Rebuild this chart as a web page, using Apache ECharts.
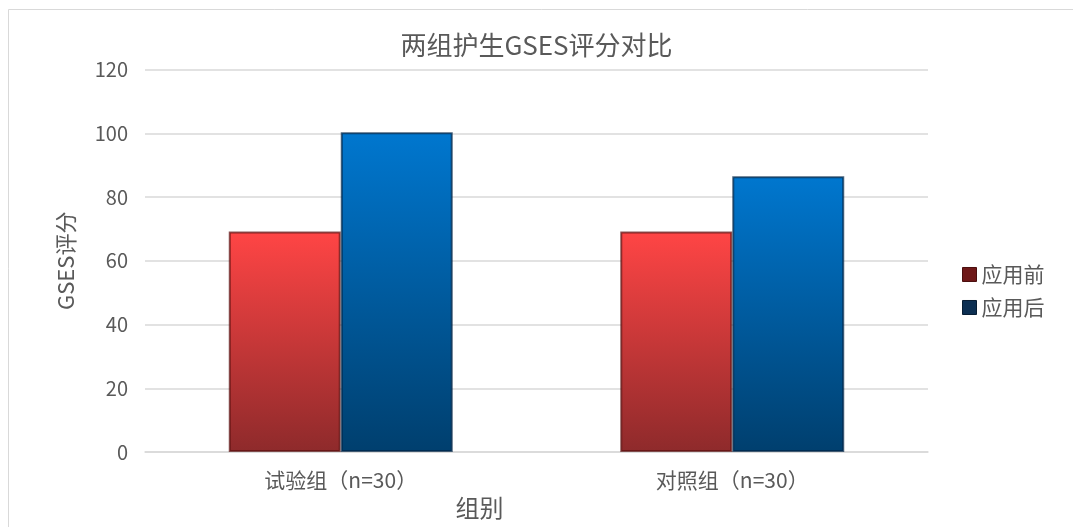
<!DOCTYPE html>
<html style="height: 100%">

<head>
    <meta charset="utf-8">
</head>

<body style="height: 100%; margin: 0; background: #fff">
    <div id="container" style="height: 100%"></div>
    <script type="text/javascript" src="https://cdn.jsdelivr.net/npm/echarts@6/dist/echarts.min.js"></script>
    <script type="text/javascript">
        var categories = ['试验组（n=30）', '对照组（n=30）'];
        var seriesNames = ['应用前', '应用后'];
        var beforeValues = [69.2, 69.2];
        var afterValues = [100.3, 86.5];
        var yTicks = [0, 20, 40, 60, 80, 100, 120];

        var font = '"Noto Sans CJK SC", "Microsoft YaHei", sans-serif';
        var textColor = '#595959';

        function barGradient(top, bottom) {
            return new echarts.graphic.LinearGradient(0, 0, 0, 1, [
                { offset: 0, color: top },
                { offset: 1, color: bottom }
            ]);
        }

        var dom = document.getElementById("container");
        var myChart = echarts.init(dom);
        var option = {
            backgroundColor: '#fff',
            title: {
                text: '两组护生GSES评分对比',
                left: 'center',
                top: 27,
                textStyle: { fontFamily: font, fontSize: 26, fontWeight: 'normal', color: textColor }
            },
            legend: {
                orient: 'vertical',
                left: 957,
                top: 259,
                icon: 'rect',
                itemWidth: 14,
                itemHeight: 14,
                itemGap: 12,
                textStyle: { fontFamily: font, fontSize: 21, color: textColor },
                data: [
                    { name: seriesNames[0], itemStyle: { color: '#6e1818', borderColor: '#4a0e0e', borderWidth: 1 } },
                    { name: seriesNames[1], itemStyle: { color: '#0c2f52', borderColor: '#071d33', borderWidth: 1 } }
                ]
            },
            graphic: [{
                type: 'rect',
                shape: { x: 8.5, y: 9.5, width: 1200, height: 600 },
                style: { fill: 'none', stroke: '#d9d9d9', lineWidth: 1 },
                silent: true
            }],
            grid: {
                left: 145,
                right: 145,
                top: 69.5,
                bottom: 75
            },
            xAxis: {
                type: 'category',
                data: categories,
                name: '组别',
                nameLocation: 'middle',
                nameGap: 35,
                nameTextStyle: { fontFamily: font, fontSize: 24, color: textColor, padding: [0, 114, 0, 0] },
                axisLine: { lineStyle: { color: '#d9d9d9', width: 1.5 } },
                axisTick: { show: false },
                axisLabel: { fontFamily: font, fontSize: 21, color: textColor, margin: 18 }
            },
            yAxis: {
                type: 'value',
                min: yTicks[0],
                max: yTicks[yTicks.length - 1],
                interval: 20,
                name: 'GSES评分',
                nameLocation: 'middle',
                nameGap: 68,
                nameTextStyle: { fontFamily: font, fontSize: 22, color: textColor },
                axisLine: { show: false },
                axisTick: { show: false },
                axisLabel: { fontFamily: font, fontSize: 20, color: textColor, margin: 17 },
                splitLine: { lineStyle: { color: '#d9d9d9', width: 1.5 } }
            },
            series: [{
                    name: seriesNames[0],
                    type: 'bar',
                    barWidth: 112,
                    barGap: '0%',
                    data: beforeValues,
                    itemStyle: {
                        color: barGradient('#ff4545', '#8e2a2b'),
                        borderColor: 'rgba(90,15,15,0.7)',
                        borderWidth: 2
                    }
                },
                {
                    name: seriesNames[1],
                    type: 'bar',
                    barWidth: 112,
                    barGap: '0%',
                    data: afterValues,
                    itemStyle: {
                        color: barGradient('#0077cf', '#003f6e'),
                        borderColor: 'rgba(0,35,70,0.7)',
                        borderWidth: 2
                    }
                }
            ]
        };
        myChart.setOption(option, true);
    </script>
</body>

</html>
